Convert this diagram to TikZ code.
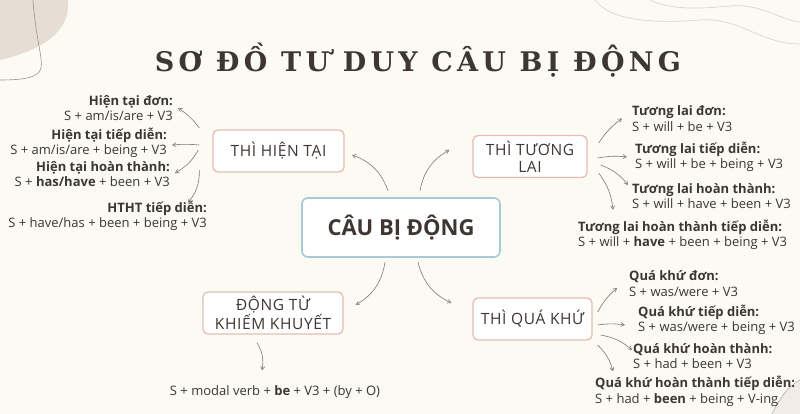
\documentclass[tikz,border=0pt]{standalone}
\usepackage{fontspec}
\setmainfont{Open Sans}
\newfontfamily\tieudefont[LetterSpace=16]{DejaVu Serif}
\newfontfamily\hopfont[LetterSpace=4]{Open Sans}
\usetikzlibrary{calc,arrows.meta}

\definecolor{nenkem}{HTML}{FBFAF3}
\definecolor{be}{HTML}{E6DED4}
\definecolor{benhat}{HTML}{F1ECE5}
\definecolor{vienhong}{HTML}{E6BCB4}
\definecolor{vienxanh}{HTML}{A8CAD4}
\definecolor{chu}{HTML}{3D3633}
\definecolor{xam}{HTML}{7E7873}
\definecolor{xamnhat}{HTML}{DAD6D0}

\tikzset{
  nhanh/.style = {draw=vienhong, line width=1.3pt, rounded corners=5pt, fill=white,
    minimum height=42pt, align=center, text=chu, font=\hopfont\fontsize{15.5}{17}\selectfont},
  goc/.style = {draw=vienxanh, line width=1.6pt, rounded corners=6pt, fill=white,
    minimum width=198pt, minimum height=59pt, text=chu, font=\fontsize{22}{24}\selectfont\bfseries},
  congthuc/.style = {inner sep=0pt, text=chu, font=\fontsize{13}{15.5}\selectfont},
  muiten/.style = {-{Straight Barb[angle=60:4pt]}, draw=xam, line width=0.6pt},
}

\begin{document}
\begin{tikzpicture}[x=1pt, y=-1pt]
\useasboundingbox (0,0) rectangle (800,414);
\fill [nenkem] (0,0) rectangle (800,414);

% trang tri
\fill [be] (0,0) -- (68,0) .. controls (71,32) and (42,50) .. (0,60) -- cycle;
\draw [xam!80, line width=0.6pt] (33,0) .. controls (36,40) and (43,58) .. (41,68) .. controls (39,78) and (22,80) .. (0,80);
\draw [xamnhat, line width=0.7pt] (595,0) .. controls (610,20) and (650,24) .. (700,20) .. controls (740,17) and (760,44) .. (800,44);
\draw [xamnhat, line width=0.7pt] (650,0) .. controls (670,10) and (700,9) .. (730,6) .. controls (760,3) and (780,20) .. (800,22);
\fill [benhat] (772,414) .. controls (780,398) and (788,386) .. (800,380) -- (800,414) -- cycle;
\draw [xam!60, line width=0.6pt] (772,414) .. controls (780,398) and (788,386) .. (800,380);

% tieu de
\node (tieude) at (418,60) [text=chu, font=\tieudefont\fontsize{27}{30}\selectfont\bfseries] {SƠ ĐỒ TƯ DUY CÂU BỊ ĐỘNG};

% cac nhanh
\node (goc) at (401,227.5) [goc] {CÂU BỊ ĐỘNG};
\node (hientai) at (278.5,151) [nhanh, minimum width=131pt] {THÌ HIỆN TẠI};
\node (tuonglai) at (530,156.5) [nhanh, minimum width=114pt] {THÌ TƯƠNG\\LAI};
\node (quakhu) at (532.5,319) [nhanh, minimum width=119pt] {THÌ QUÁ KHỨ};
\node (dongtu) at (273,313) [nhanh, minimum width=140pt] {ĐỘNG TỪ\\KHIẾM KHUYẾT};

% hien tai
\node (ht1) at (173,108) [congthuc, anchor=east, align=right] {\textbf{Hiện tại đơn:}\\S + am/is/are + V3};
\node (ht2) at (167,143) [congthuc, anchor=east, align=right] {\textbf{Hiện tại tiếp diễn:}\\S + am/is/are + being + V3};
\node (ht3) at (170,174) [congthuc, anchor=east, align=right] {\textbf{Hiện tại hoàn thành:}\\S + \textbf{has/have} + been + V3};
\node (ht4) at (207,216) [congthuc, anchor=east, align=right] {\textbf{HTHT tiếp diễn:}\\S + have/has + been + being + V3};

% tuong lai
\node (tl1) at (632,118.5) [congthuc, anchor=west, align=left] {\textbf{Tương lai đơn:}\\S + will + be + V3};
\node (tl2) at (635,157) [congthuc, anchor=west, align=left] {\textbf{Tương lai tiếp diễn:}\\S + will + be + being + V3};
\node (tl3) at (632,196) [congthuc, anchor=west, align=left] {\textbf{Tương lai hoàn thành:}\\S + will + have + been + V3};
\node (tl4) at (578,235) [congthuc, anchor=west, align=left] {\textbf{Tương lai hoàn thành tiếp diễn:}\\S + will + \textbf{have} + been + being + V3};

% qua khu
\node (qk1) at (629,283.5) [congthuc, anchor=west, align=left] {\textbf{Quá khứ đơn:}\\S + was/were + V3};
\node (qk2) at (638,320) [congthuc, anchor=west, align=left] {\textbf{Quá khứ tiếp diễn:}\\S + was/were + being + V3};
\node (qk3) at (633,356) [congthuc, anchor=west, align=left] {\textbf{Quá khứ hoàn thành:}\\S + had + been + V3};
\node (qk4) at (595,391.5) [congthuc, anchor=west, align=left] {\textbf{Quá khứ hoàn thành tiếp diễn:}\\S + had + \textbf{been} + being + V-ing};

% dong tu khiem khuyet
\node (modal) at (275,392) [congthuc] {S + modal verb + \textbf{be} + V3 + (by + O)};

% mui ten tu goc
\path ($(goc.north)+(-13,-6.5)$) edge [muiten, bend right=25] ($(hientai.east)+(7.5,4)$);
\path ($(goc.north)+(19,-6.5)$) edge [muiten, bend left=25] ($(tuonglai.west)+(-23,-6.5)$);
\path ($(goc.south)+(-16,4.5)$) edge [muiten, bend left=25] ($(dongtu.east)+(12,-8)$);
\path ($(goc.south)+(17,4.5)$) edge [muiten, bend right=25] ($(quakhu.west)+(-21,-16)$);

% mui ten hien tai
\path ($(hientai.west)+(-13,-23)$) edge [muiten, bend right=10] ($(ht1.east)+(5,0)$);
\path ($(hientai.west)+(-13,-6)$) edge [muiten, bend right=5] ($(ht2.east)+(5,2)$);
\path ($(hientai.west)+(-14,-1)$) edge [muiten, bend left=15] ($(ht3.east)+(5,-1)$);
\path ($(hientai.west)+(-13,19)$) edge [muiten, bend left=20] ($(ht4.north east)+(-19,2)$);

% mui ten tuong lai
\path ($(tuonglai.east)+(11,-13.5)$) edge [muiten, bend left=10] ($(tl1.west)+(-10,0)$);
\path ($(tuonglai.east)+(10,1.5)$) edge [muiten, bend left=8] ($(tl2.west)+(-8,0)$);
\path ($(tuonglai.east)+(13,8.5)$) edge [muiten, bend left=15] ($(tl3.west)+(-4,-11)$);
\path ($(tuonglai.east)+(11,16.5)$) edge [muiten, bend left=15] ($(tl4.north west)+(35,-10)$);

% mui ten qua khu
\path ($(quakhu.east)+(5,-7)$) edge [muiten, bend left=10] ($(qk1.west)+(-12,4.5)$);
\path ($(quakhu.east)+(5,6)$) edge [muiten, bend left=8] ($(qk2.west)+(-13,5)$);
\path ($(quakhu.east)+(8,16)$) edge [muiten, bend left=15] ($(qk3.west)+(-1,-6)$);
\path ($(quakhu.east)+(5,26)$) edge [muiten, bend left=15] ($(qk4.north west)+(18,-5)$);

% mui ten dong tu
\path ($(dongtu.south)+(-16,8)$) edge [muiten, bend left=20] ($(modal.north)+(-13,-15)$);

\end{tikzpicture}
\end{document}
